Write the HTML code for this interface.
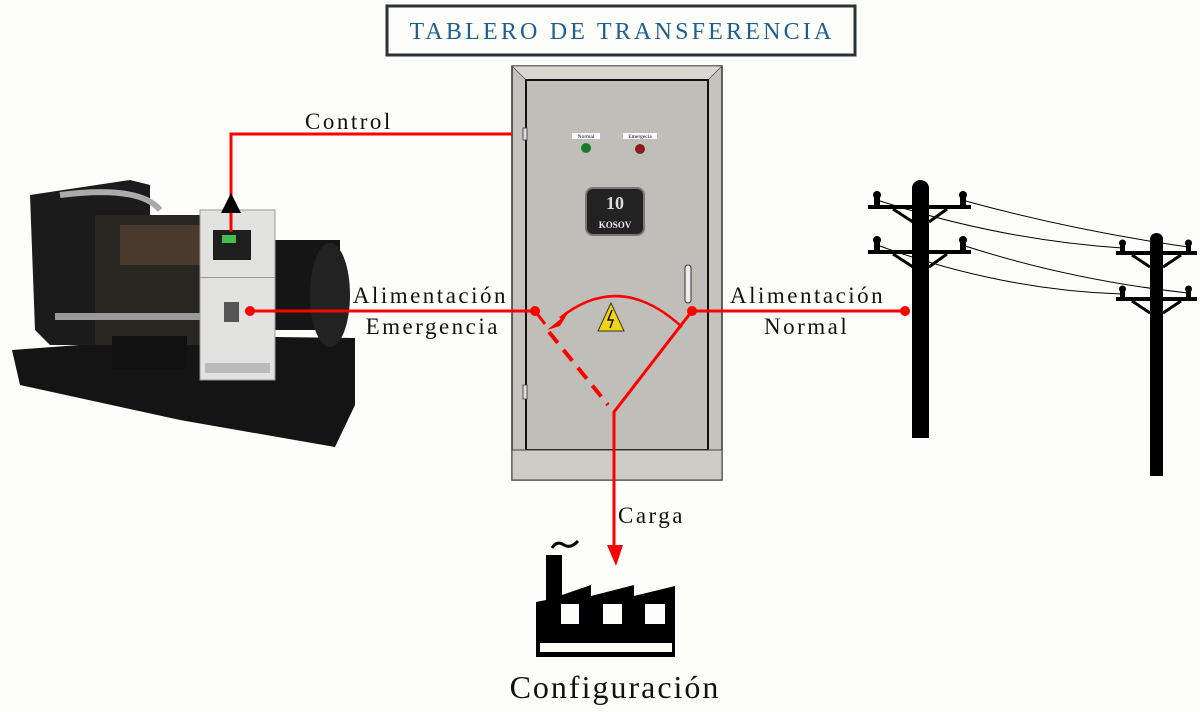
<!DOCTYPE html>
<html><head><meta charset="utf-8"><style>
html,body{margin:0;padding:0;background:#fdfdfa;}
svg{display:block}
text{font-family:"Liberation Serif",serif;}
</style></head><body>
<svg width="1200" height="712" viewBox="0 0 1200 712" xmlns="http://www.w3.org/2000/svg">
<rect width="1200" height="712" fill="#fdfdfa"/>
<!-- title -->
<rect x="387" y="6" width="468" height="49" fill="#fdfdfa" stroke="#2b3338" stroke-width="3"/>
<text x="622" y="39" text-anchor="middle" font-size="24" fill="#1d5f8f" letter-spacing="3.2">TABLERO DE TRANSFERENCIA</text>

<!-- cabinet -->
<rect x="512" y="66" width="210" height="414" fill="#c4c3bd" stroke="#333" stroke-width="1.5"/>
<polygon points="512,66 722,66 708,80 526,80" fill="#d8d7d2" stroke="#555" stroke-width="0.8"/>
<rect x="526" y="80" width="182" height="370" fill="#bfbeb8" stroke="#111" stroke-width="2"/>
<rect x="512" y="450" width="210" height="30" fill="#cdccc6" stroke="#444" stroke-width="1"/>
<rect x="523" y="128" width="4" height="12" fill="#ddd" stroke="#333" stroke-width="0.8"/>
<rect x="523" y="385" width="4" height="14" fill="#ddd" stroke="#333" stroke-width="0.8"/>
<rect x="572" y="133" width="28" height="6" fill="#fff"/>
<text x="586" y="138" font-size="5.5" text-anchor="middle" fill="#000">Normal</text>
<rect x="623" y="133" width="34" height="6" fill="#fff"/>
<text x="640" y="138" font-size="5.5" text-anchor="middle" fill="#000">Emergecia</text>
<circle cx="586" cy="148" r="5" fill="#1a7a2a"/>
<circle cx="640" cy="149" r="5" fill="#8a1c1c"/>
<rect x="586" y="188" width="58" height="47" rx="7" fill="#222" stroke="#777" stroke-width="2"/>
<text x="615" y="209" font-size="18" font-weight="bold" text-anchor="middle" fill="#ddd">10</text>
<text x="615" y="228" font-size="9" font-weight="bold" text-anchor="middle" fill="#eee" font-family="Liberation Sans,sans-serif">KOSOV</text>
<rect x="685" y="265" width="6" height="38" rx="3" fill="#eee" stroke="#333" stroke-width="1"/>
<polygon points="611,303 598,331 624,331" fill="#f2d40f" stroke="#333" stroke-width="1"/>
<path d="M612,310 L608,320 L613,320 L610,328" stroke="#111" stroke-width="1.5" fill="none"/>

<!-- generator (approximate) -->
<g>
<polygon points="12,350 200,336 355,338 355,405 335,447 180,420 20,385" fill="#141414"/>
<polygon points="30,195 130,180 150,185 150,345 50,345 35,330" fill="#1b1b1b"/>
<rect x="95" y="215" width="115" height="130" fill="#2a2622"/>
<rect x="120" y="225" width="80" height="40" fill="#4a3a2e"/>
<path d="M60,195 Q140,185 160,210" stroke="#aaa" stroke-width="6" fill="none"/>
<rect x="55" y="313" width="150" height="7" fill="#999"/>
<rect x="275" y="240" width="65" height="90" fill="#151515"/>
<ellipse cx="330" cy="295" rx="20" ry="52" fill="#222"/>
<rect x="112" y="336" width="75" height="33" fill="#111"/>
<rect x="200" y="210" width="75" height="170" fill="#e2e2e0" stroke="#999" stroke-width="1"/>
<rect x="200" y="277" width="75" height="1" fill="#999"/>
<rect x="213" y="230" width="38" height="30" fill="#1e1e1e"/>
<rect x="222" y="235" width="14" height="8" fill="#3fbf4a"/>
<rect x="224" y="302" width="15" height="20" fill="#555"/>
<rect x="205" y="363" width="65" height="10" fill="#bbb"/>
</g>

<!-- red connectors -->
<g stroke="#f00" fill="none" stroke-width="3">
<polyline points="512,134 231,134 231,214"/>
<line x1="250" y1="311" x2="535" y2="311"/>
<line x1="692" y1="311" x2="905" y2="311"/>
<line x1="535" y1="311" x2="545" y2="324"/>
<line x1="549" y1="332" x2="608" y2="405" stroke-width="4" stroke-dasharray="14,9"/>
<polyline points="692,311 614,412 614,548"/>
<path d="M682,327 Q620,270 560,318" stroke-width="2.5"/>
</g>
<polygon points="547,330 568,313 560,326" fill="#f00"/>
<circle cx="250" cy="311" r="5" fill="#f00"/>
<circle cx="535" cy="311" r="5" fill="#f00"/>
<circle cx="692" cy="311" r="5" fill="#f00"/>
<circle cx="905" cy="311" r="5" fill="#f00"/>
<polygon points="607,545 623,545 616,566" fill="#f00"/>
<polygon points="221,213 241,213 231,193" fill="#000"/>
<line x1="231" y1="213" x2="231" y2="232" stroke="#f00" stroke-width="3"/>

<!-- labels -->
<g font-size="23" fill="#111" letter-spacing="2.5">
<text x="305" y="129">Control</text>
<text x="508" y="303" text-anchor="end">Alimentación</text>
<text x="500" y="334" text-anchor="end">Emergencia</text>
<text x="730" y="303">Alimentación</text>
<text x="764" y="334">Normal</text>
<text x="618" y="523">Carga</text>
</g>
<text x="615" y="698" font-size="32" text-anchor="middle" fill="#111" letter-spacing="2">Configuración</text>

<!-- factory -->
<path d="M552,548 q5,-8 12,-3 q7,4 14,-4" stroke="#000" stroke-width="3" fill="none"/>
<polygon points="536,602 546,600 546,555 562,555 562,595 591,585 591,596 634,585 634,596 675,586 675,657 536,657" fill="#000"/>
<rect x="561" y="604" width="18" height="20" fill="#fdfdfa"/>
<rect x="603" y="604" width="19" height="20" fill="#fdfdfa"/>
<rect x="645" y="604" width="20" height="20" fill="#fdfdfa"/>
<rect x="540" y="643" width="132" height="9" fill="#fdfdfa"/>

<!-- poles -->
<g fill="#000" stroke="#000">
<rect x="912" y="188" width="17" height="250" stroke="none"/>
<ellipse cx="920.5" cy="188" rx="8.5" ry="8" stroke="none"/>
<rect x="868" y="205" width="103" height="4" stroke="none"/>
<rect x="868" y="250" width="103" height="4" stroke="none"/>
<path d="M893,209 L913,222 M947,209 L929,222 M893,254 L913,267 M947,254 L929,267" stroke-width="3" fill="none"/>
<rect x="1150" y="239" width="13" height="237" stroke="none"/>
<ellipse cx="1156.5" cy="239" rx="6.5" ry="6" stroke="none"/>
<rect x="1116" y="251" width="81" height="4" stroke="none"/>
<rect x="1116" y="297" width="81" height="4" stroke="none"/>
<path d="M1132,255 L1150,267 M1181,255 L1163,267 M1132,301 L1150,313 M1181,301 L1163,313" stroke-width="3" fill="none"/>
<g stroke="none">
<rect x="874" y="193" width="6" height="12"/><circle cx="877" cy="195" r="4"/>
<rect x="960" y="193" width="6" height="12"/><circle cx="963" cy="195" r="4"/>
<rect x="874" y="238" width="6" height="12"/><circle cx="877" cy="240" r="4"/>
<rect x="960" y="238" width="6" height="12"/><circle cx="963" cy="240" r="4"/>
<rect x="1120" y="243" width="5" height="8"/><circle cx="1122.5" cy="243" r="3.5"/>
<rect x="1186" y="243" width="5" height="8"/><circle cx="1188.5" cy="243" r="3.5"/>
<rect x="1120" y="289" width="5" height="8"/><circle cx="1122.5" cy="289" r="3.5"/>
<rect x="1186" y="289" width="5" height="8"/><circle cx="1188.5" cy="289" r="3.5"/>
</g>
<path d="M877,200 Q1000,240 1122,248 M962,200 Q1070,230 1188,247 M877,245 Q1000,290 1122,294 M962,245 Q1070,280 1188,293" stroke-width="1" fill="none"/>
</g>
</svg>
</body></html>
